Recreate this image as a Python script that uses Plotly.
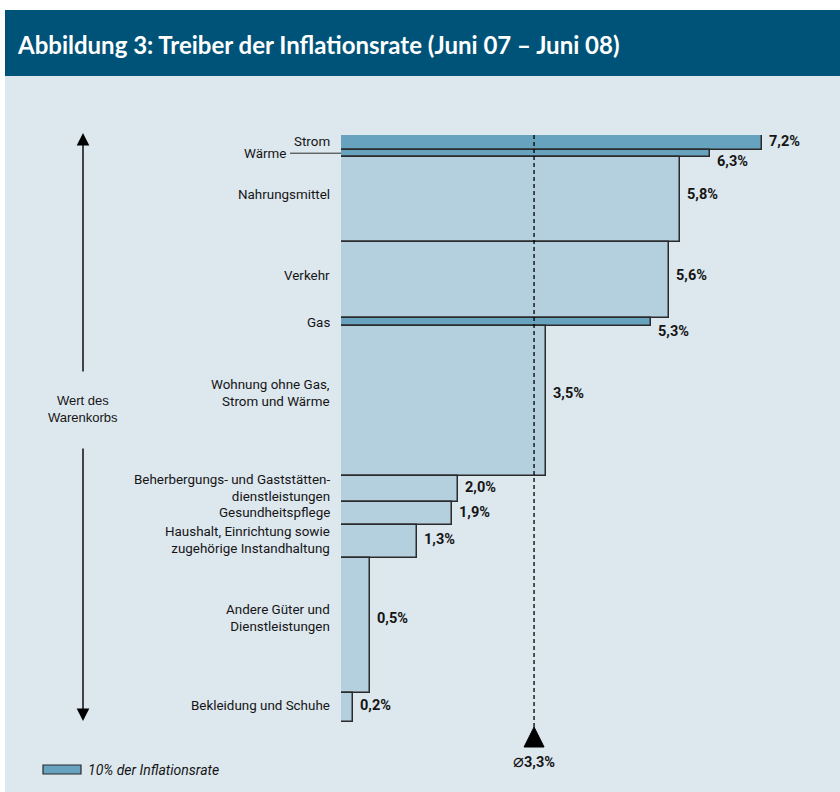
import plotly.graph_objects as go

# Categories of the consumer basket, top to bottom
categories = [
    "Strom",
    "Wärme",
    "Nahrungsmittel",
    "Verkehr",
    "Gas",
    "Wohnung ohne Gas,<br>Strom und Wärme",
    "Beherbergungs- und Gaststätten-<br>dienstleistungen",
    "Gesundheitspflege",
    "Haushalt, Einrichtung sowie<br>zugehörige Instandhaltung",
    "Andere Güter und<br>Dienstleistungen",
    "Bekleidung und Schuhe",
]
# Price change June 07 - June 08 (%)
rates = [7.2, 6.3, 5.8, 5.6, 5.3, 3.5, 2.0, 1.9, 1.3, 0.5, 0.2]
# Weight in the basket (per mille)
weights = [25, 12, 145, 130, 14, 255, 44, 40, 56, 229, 50]
# Energy groups that together make up 10% of the inflation rate
energy = [True, True, False, False, True, False, False, False, False, False, False]
avg_rate = 3.3

# Page / plot geometry (pixels)
W, H = 840, 792
L, R, T, B = 341, 31, 135, 70
X_MAX = 8.0
Y_TOTAL = sum(weights)
plot_w = W - L - R
plot_h = H - T - B
PX_PER_X = plot_w / X_MAX

LIGHT = "#b4cfdd"
DARK = "#67a2be"
EDGE = "#2b2b2b"
BG = "#dde7ee"
HEAD = "#005378"
TEXT = "#151515"
LABEL_FONT = "Liberation Sans Narrow, Arial Narrow, Roboto, sans-serif"


def paper_x(px):
    return (px - L) / plot_w


def paper_y(py):
    return (H - B - py) / plot_h


def fmt(v):
    return f"{v:.1f}".replace(".", ",") + "%"


# cumulative centres of the variable-height bars
centres, bottoms = [], []
acc = 0
for w in weights:
    centres.append(acc + w / 2)
    acc += w
    bottoms.append(acc)

fig = go.Figure()
fig.add_trace(go.Bar(
    x=rates,
    y=centres,
    width=weights,
    orientation="h",
    marker=dict(color=[DARK if e else LIGHT for e in energy],
                line=dict(color=EDGE, width=1.5)),
    hoverinfo="skip",
    showlegend=False,
))

# triangle marking the average rate below the plot
half = 10 / PX_PER_X
tri_path = (f"M {avg_rate - half} {paper_y(747)} L {avg_rate + half} {paper_y(747)} "
            f"L {avg_rate} {paper_y(727)} Z")

shapes = [
    # light panel and title band
    dict(type="rect", xref="paper", yref="paper", x0=paper_x(5), x1=paper_x(W),
         y0=paper_y(H), y1=paper_y(76), fillcolor=BG, line=dict(width=0), layer="below"),
    dict(type="rect", xref="paper", yref="paper", x0=paper_x(5), x1=paper_x(W),
         y0=paper_y(76), y1=paper_y(10), fillcolor=HEAD, line=dict(width=0), layer="below"),
    # average line
    dict(type="line", xref="x", yref="paper", x0=avg_rate, x1=avg_rate,
         y0=1, y1=paper_y(728), line=dict(color="black", width=1.3, dash="4px,3px"),
         layer="above"),
    dict(type="path", xref="x", yref="paper", path=tri_path,
         fillcolor="black", line=dict(color="black", width=1)),
    # leader line for "Wärme"
    dict(type="line", xref="paper", yref="y", x0=paper_x(290), x1=0,
         y0=centres[1], y1=centres[1], line=dict(color=EDGE, width=1)),
    # legend swatch
    dict(type="rect", xref="paper", yref="paper", x0=paper_x(43), x1=paper_x(81),
         y0=paper_y(774), y1=paper_y(765), fillcolor=DARK, line=dict(color=EDGE, width=1.2)),
]

annotations = []

# category labels left of the bars
for cat, c, w in zip(categories, centres, weights):
    h_px = w / Y_TOTAL * plot_h
    xshift = -9
    if cat == "Wärme":
        xshift = -(L - 288)
    annotations.append(dict(
        x=0, y=c, xref="x", yref="y", text=cat, showarrow=False,
        xanchor="right", yanchor="middle", align="right",
        xshift=xshift, yshift=round(0.055 * h_px),
        font=dict(family=LABEL_FONT, size=13.4, color=TEXT),
    ))

# value labels right of the bars
for r, c, w, b in zip(rates, centres, weights, bottoms):
    h_px = w / Y_TOTAL * plot_h
    if h_px < 12:
        y, ysh = b, -5
    else:
        y, ysh = c, round(0.055 * h_px)
    annotations.append(dict(
        x=r, y=y, xref="x", yref="y", text=f"<b>{fmt(r)}</b>", showarrow=False,
        xanchor="left", yanchor="middle", xshift=5, yshift=ysh,
        font=dict(family=LABEL_FONT, size=14.5, color=TEXT),
    ))

# average label
annotations.append(dict(
    x=avg_rate, y=paper_y(760), xref="x", yref="paper",
    text=f"<span style='font-size:18px;font-weight:normal'>⌀</span><b>{fmt(avg_rate)}</b>",
    showarrow=False, xanchor="center", yanchor="middle",
    font=dict(family=LABEL_FONT, size=14.5, color=TEXT),
))

# basket-value axis with arrows
annotations += [
    dict(x=paper_x(83), y=paper_y(133), xref="paper", yref="paper", text="",
         showarrow=True, ax=0, ay=240, arrowhead=2, arrowsize=1.8, arrowwidth=1.4,
         arrowcolor="black", standoff=0),
    dict(x=paper_x(83), y=paper_y(721), xref="paper", yref="paper", text="",
         showarrow=True, ax=0, ay=-274, arrowhead=2, arrowsize=1.8, arrowwidth=1.4,
         arrowcolor="black", standoff=0),
    dict(x=paper_x(83), y=paper_y(409), xref="paper", yref="paper",
         text="Wert des<br>Warenkorbs", showarrow=False, xanchor="center", yanchor="middle",
         font=dict(family="Liberation Sans, Arial, sans-serif", size=13, color=TEXT)),
]

# legend text
annotations.append(dict(
    x=paper_x(86), y=paper_y(770), xref="paper", yref="paper",
    text="<i>10% der Inflationsrate</i>", showarrow=False, xanchor="left", yanchor="middle",
    font=dict(family=LABEL_FONT, size=14, color=TEXT),
))

# title
annotations.append(dict(
    x=paper_x(15), y=paper_y(44), xref="paper", yref="paper",
    text="<b>Abbildung 3: Treiber der Inflationsrate (Juni 07 – Juni 08)</b>",
    showarrow=False, xanchor="left", yanchor="middle",
    font=dict(family="Lato, Open Sans, sans-serif", size=24, color="white"),
))

fig.update_layout(
    width=W, height=H, autosize=False,
    margin=dict(l=L, r=R, t=T, b=B, pad=0),
    paper_bgcolor="white", plot_bgcolor="rgba(0,0,0,0)",
    xaxis=dict(range=[0, X_MAX], visible=False, fixedrange=True),
    yaxis=dict(range=[Y_TOTAL, 0], visible=False, fixedrange=True),
    bargap=0, shapes=shapes, annotations=annotations,
)

fig.write_html("out.html", config={"displayModeBar": False})
